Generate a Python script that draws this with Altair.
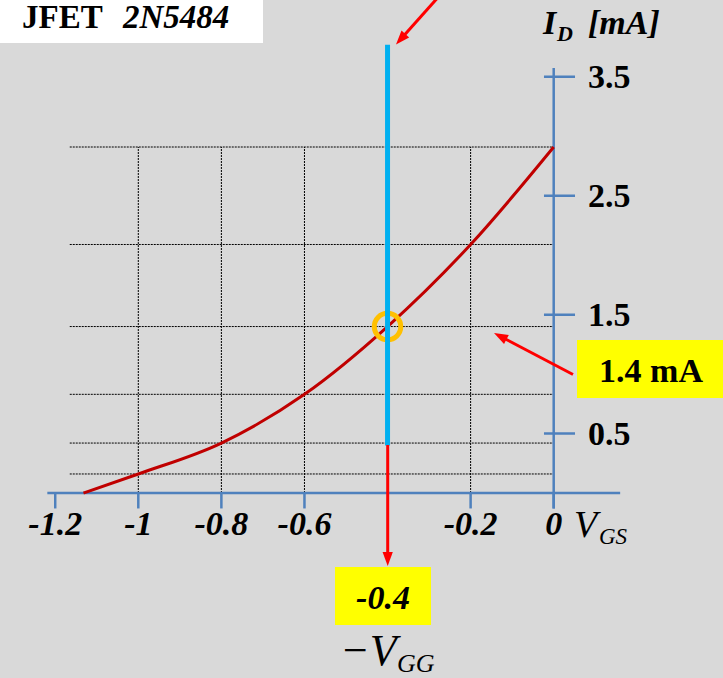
import math

import altair as alt
import pandas as pd

# Transfer characteristic of the JFET 2N5484: V_GS [V] -> I_D [mA]
VGS = [-1.132, -1.0, -0.8, -0.6, -0.4, -0.2, 0.0]
ID_MA = [0.0, 0.16, 0.42, 0.83, 1.40, 2.09, 2.91]

X_TICKS = [-1.2, -1.0, -0.8, -0.6, -0.2, 0.0]
X_TICK_LABELS = ["-1.2", "-1", "-0.8", "-0.6", "-0.2", "0"]
Y_TICKS = [0.5, 1.5, 2.5, 3.5]
Y_TICK_LABELS = ["0.5", "1.5", "2.5", "3.5"]

# Operating point set by the gate bias -V_GG
Q_VGS = -0.4
Q_ID = 1.4
BIAS_LINE = [0.40, 3.77]  # extent of the -V_GG line in mA

# ---- page geometry -------------------------------------------------------
W, H = 723, 678
X0_PX, PX_PER_V = 553.7, 415.4     # pixel of V_GS = 0, pixels per volt
Y0_PX, PX_PER_MA = 493.0, 118.9    # pixel of I_D = 0, pixels per mA

XS = alt.Scale(domain=[-X0_PX / PX_PER_V, (W - X0_PX) / PX_PER_V], nice=False, zero=False)
YS = alt.Scale(domain=[(Y0_PX - H) / PX_PER_MA, Y0_PX / PX_PER_MA], nice=False, zero=False)

BG = "#d9d9d9"
AXIS_BLUE = "#4f81bd"
CURVE_RED = "#c00000"
ARROW_RED = "#ff0000"
BIAS_CYAN = "#00b0f0"
Q_ORANGE = "#ffc000"
YELLOW = "#ffff00"
FONT = "Liberation Serif"


def X(field, **kw):
    return alt.X(field, type="quantitative", scale=XS, axis=None, **kw)


def Y(field, **kw):
    return alt.Y(field, type="quantitative", scale=YS, axis=None, **kw)


ONE = pd.DataFrame({"_": [0]})

curve_df = pd.DataFrame({"vgs": VGS, "id": ID_MA})

# ---- dotted grid through the curve points --------------------------------
vgrid_df = pd.DataFrame({"vgs": VGS[1:-1], "lo": 0.0, "hi": ID_MA[-1]})
hgrid_df = pd.DataFrame({"id": ID_MA[1:], "left": -1.165, "right": 0.0})

vgrid = alt.Chart(vgrid_df).mark_rule(color="#000000", strokeWidth=1, strokeDash=[2, 1]).encode(
    x=X("vgs"), y=Y("lo"), y2="hi"
)
hgrid = alt.Chart(hgrid_df).mark_rule(color="#000000", strokeWidth=1, strokeDash=[2, 1]).encode(
    x=X("left"), x2="right", y=Y("id")
)

# ---- hand-drawn axes -----------------------------------------------------
xaxis = alt.Chart(pd.DataFrame({"a": [-1.219], "b": [0.16], "y": [0.0]})).mark_rule(
    color=AXIS_BLUE, strokeWidth=2.5
).encode(x=X("a"), x2="b", y=Y("y"))
yaxis = alt.Chart(pd.DataFrame({"x": [0.0], "a": [-0.13], "b": [3.574]})).mark_rule(
    color=AXIS_BLUE, strokeWidth=2.5
).encode(x=X("x"), y=Y("a"), y2="b")

xticks_df = pd.DataFrame({"v": X_TICKS, "lab": X_TICK_LABELS, "top": 0.0, "bot": -0.13})
xticks = alt.Chart(xticks_df).mark_rule(color=AXIS_BLUE, strokeWidth=2.5).encode(
    x=X("v"), y=Y("top"), y2="bot"
)
yticks_df = pd.DataFrame({"i": Y_TICKS, "lab": Y_TICK_LABELS, "l": -0.0234, "r": 0.0513})
yticks = alt.Chart(yticks_df).mark_rule(color=AXIS_BLUE, strokeWidth=2.5).encode(
    x=X("l"), x2="r", y=Y("i")
)

xlabels = alt.Chart(xticks_df).mark_text(
    font=FONT, fontSize=34, fontWeight="bold", fontStyle="italic",
    align="center", baseline="alphabetic", dy=42, color="black"
).encode(x=X("v"), y=Y("top"), text="lab:N")
ylabels = alt.Chart(yticks_df).mark_text(
    font=FONT, fontSize=34, fontWeight="bold",
    align="left", baseline="alphabetic", dx=44, dy=11, color="black"
).encode(x=X("l"), y=Y("i"), text="lab:N")

# ---- transfer curve, bias line, Q point ---------------------------------
curve = alt.Chart(curve_df).mark_line(
    color=CURVE_RED, strokeWidth=3, interpolate="monotone"
).encode(x=X("vgs"), y=Y("id"), order="vgs:Q")

qpoint = alt.Chart(pd.DataFrame({"vgs": [Q_VGS], "id": [Q_ID]})).mark_point(
    shape="circle", size=700, filled=False, stroke=Q_ORANGE, strokeWidth=5, opacity=1
).encode(x=X("vgs"), y=Y("id"))

bias = alt.Chart(pd.DataFrame({"vgs": [Q_VGS], "lo": [BIAS_LINE[0]], "hi": [BIAS_LINE[1]]})).mark_rule(
    color=BIAS_CYAN, strokeWidth=5
).encode(x=X("vgs"), y=Y("lo"), y2="hi")

# ---- annotation arrows (screen pixels) -----------------------------------
HEAD = "M0,0L-0.42,1.15L0.42,1.15Z"
HEAD_SIZE = 595


def arrow(x1, y1, x2, y2):
    dx, dy = x2 - x1, y2 - y1
    n = math.hypot(dx, dy)
    ang = math.degrees(math.atan2(dx, -dy)) % 360
    ex, ey = x2 - dx / n * 8, y2 - dy / n * 8
    shaft = alt.Chart(ONE).mark_rule(color=ARROW_RED, strokeWidth=3).encode(
        x=alt.value(x1), y=alt.value(y1), x2=alt.value(ex), y2=alt.value(ey)
    )
    head = alt.Chart(ONE).mark_point(
        shape=HEAD, size=HEAD_SIZE, filled=True, color=ARROW_RED, opacity=1, angle=ang
    ).encode(x=alt.value(x2), y=alt.value(y2))
    return shaft + head


arrows = arrow(441, -6, 396, 44.5) + arrow(387.7, 445, 387.7, 566) + arrow(573, 374.5, 494, 333)


# ---- boxes and texts -----------------------------------------------------
def box(x1, y1, x2, y2, fill):
    return alt.Chart(ONE).mark_rect(color=fill, opacity=1).encode(
        x=alt.value(x1), x2=alt.value(x2), y=alt.value(y1), y2=alt.value(y2)
    )


def txt(s, x, y, size, weight="normal", style="normal", align="left"):
    return alt.Chart(ONE).mark_text(
        text=s, font=FONT, fontSize=size, fontWeight=weight, fontStyle=style,
        align=align, baseline="alphabetic", color="black"
    ).encode(x=alt.value(x), y=alt.value(y))


boxes = (
    box(0, 0, 263, 43, "#ffffff")
    + box(577, 340, 723, 398, YELLOW)
    + box(335, 567, 431, 625, YELLOW)
)

texts = (
    txt("JFET", 22, 28, 33, "bold")
    + txt("2N5484", 123, 28, 33, "bold", "italic")
    + txt("I", 543, 34, 34, "bold", "italic")
    + txt("D", 557, 41, 22, "bold", "italic")
    + txt("[mA]", 588, 34, 34, "bold", "italic")
    + txt("V", 574, 537, 38, "normal", "italic")
    + txt("GS", 599, 544, 23, "normal", "italic")
    + txt("1.4 mA", 651, 382, 34, "bold", "normal", "center")
    + txt("-0.4", 383, 609, 34, "bold", "italic", "center")
    + txt("\u2212V", 340, 665, 44, "normal", "italic")
    + txt("GG", 397, 672, 26, "normal", "italic")
)

chart = alt.layer(
    hgrid, vgrid, xaxis, yaxis, xticks, yticks, curve, qpoint, bias,
    arrows, boxes, texts, xlabels, ylabels
).properties(
    width=W, height=H, padding=0, background=BG, autosize=alt.AutoSizeParams(type="none")
).configure_view(stroke=None)

chart.save("out.html", embed_options={"renderer": "svg", "actions": False})
